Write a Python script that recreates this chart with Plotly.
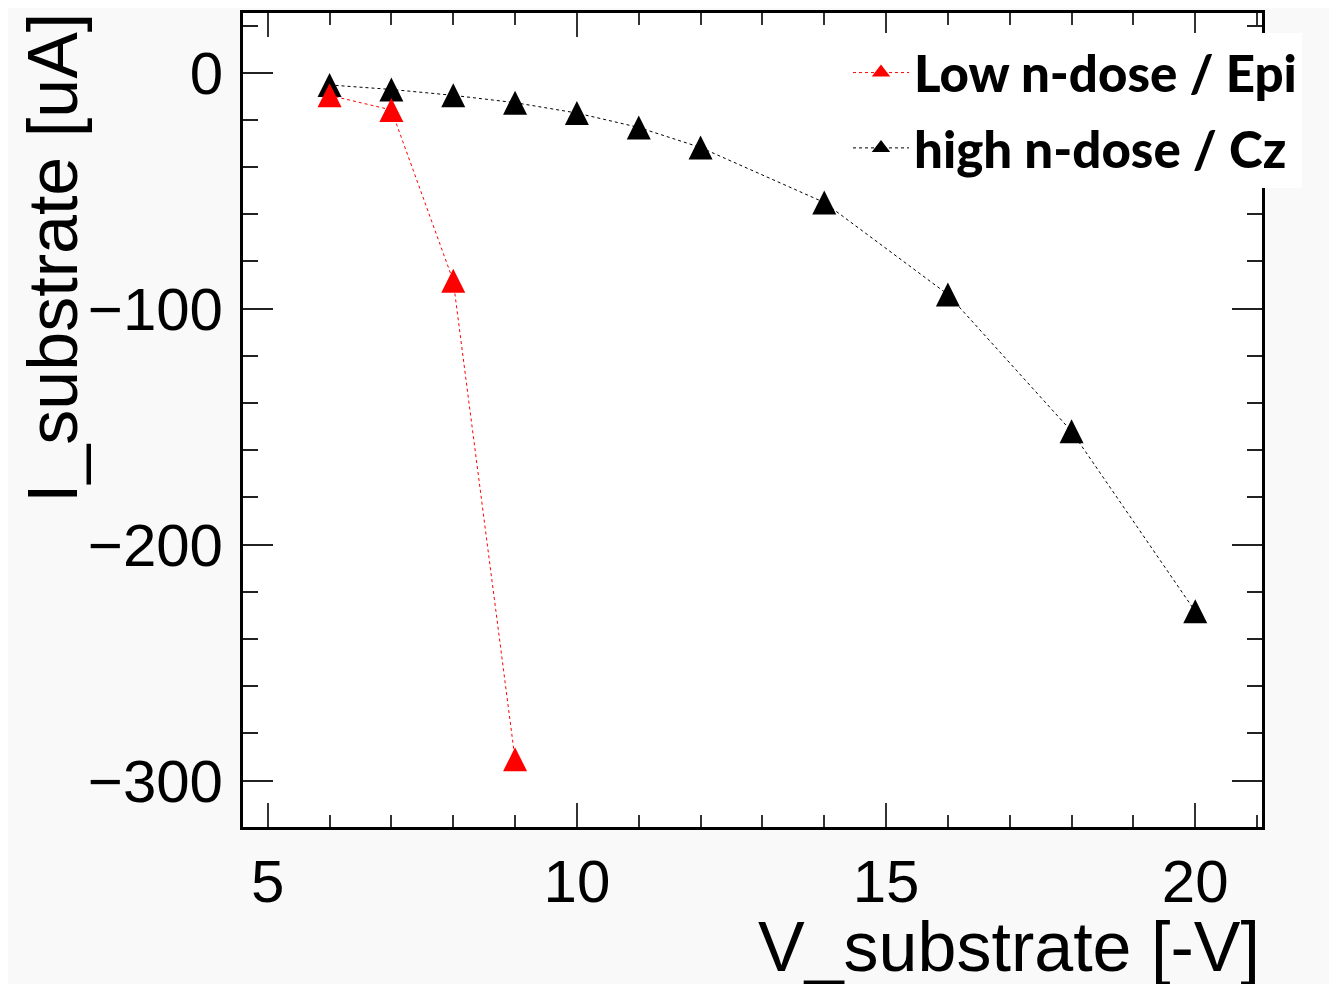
import plotly.graph_objects as go

# Data
v_low = [6, 7, 8, 9]
i_low = [-9.6, -15.8, -88.2, -291.0]

v_high = [6, 7, 8, 9, 10, 11, 12, 14, 16, 18, 20]
i_high = [-5.2, -7.1, -9.6, -12.7, -17.1, -23.2, -31.7, -55.0, -94.0, -152.0, -228.3]

name_low = "Low n-dose / Epi"
name_high = "high n-dose / Cz"

x_title = "V_substrate [-V]"
y_title = "I_substrate [uA]"

x_ticks = [5, 10, 15, 20]
y_ticks = [0, -100, -200, -300]

# page body has an 8px margin, so the figure is sized to fit inside it
W, H = 1329, 976
L, R, T, B = 235, 75, 2, 157
pw = W - L - R
ph = H - T - B

msize = 24
marker_common = dict(symbol="arrow-down", angle=180, standoff=msize / 2, size=msize)

fig = go.Figure()
fig.add_trace(go.Scatter(
    x=v_high, y=i_high, mode="lines+markers", name=name_high,
    line=dict(color="black", width=1, dash="dot", backoff=0),
    marker=dict(color="black", **marker_common),
    showlegend=False,
))
fig.add_trace(go.Scatter(
    x=v_low, y=i_low, mode="lines+markers", name=name_low,
    line=dict(color="red", width=1, dash="dot", backoff=0),
    marker=dict(color="red", **marker_common),
    showlegend=False,
))

# legend entries (no data of their own; plotly caps legend marker size)
for nm, col, grp, rank in [(name_low, "red", "a", 1), (name_high, "black", "b", 2)]:
    fig.add_trace(go.Scatter(
        x=[None], y=[None], mode="lines+markers", name=nm,
        line=dict(color=col, width=1, dash="dot"),
        marker=dict(color=col, symbol="triangle-up", size=16),
        legendgroup=grp, legendrank=rank, showlegend=True,
    ))

axis_font = dict(family="Liberation Sans, Arial, sans-serif", size=60, color="black")

fig.update_xaxes(
    range=[4.6, 21.08], tickvals=x_ticks, ticktext=[str(v) for v in x_ticks],
    ticks="inside", ticklen=24, tickwidth=2, tickcolor="#333",
    minor=dict(dtick=1, ticks="inside", ticklen=12, tickwidth=2, tickcolor="#333", showgrid=False),
    showline=True, linewidth=3, linecolor="black", mirror="allticks",
    showgrid=False, zeroline=False, tickfont=axis_font, ticklabelstandoff=0,
)
fig.update_yaxes(
    range=[-319.7, 25.3], tickvals=y_ticks,
    ticks="inside", ticklen=30, tickwidth=2, tickcolor="#222",
    minor=dict(dtick=20, tick0=0, ticks="inside", ticklen=15, tickwidth=2, tickcolor="#222", showgrid=False),
    showline=True, linewidth=3, linecolor="black", mirror="allticks",
    showgrid=False, zeroline=False, tickfont=axis_font, ticklabelstandoff=5,
)

fig.add_annotation(
    text=x_title, xref="paper", yref="paper", x=1.0, y=(H - B - 939) / ph,
    xanchor="right", yanchor="middle", showarrow=False,
    font=dict(family="Liberation Sans, Arial, sans-serif", size=70, color="black"),
)
fig.add_annotation(
    text=y_title, xref="paper", yref="paper", x=(45 - L) / pw, y=1 + 2 / ph,
    xanchor="center", yanchor="top", showarrow=False, textangle=-90,
    font=dict(family="Liberation Sans, Arial, sans-serif", size=70, color="black"),
)

fig.update_layout(
    width=W, height=H,
    margin=dict(l=L, r=R, t=T, b=B),
    paper_bgcolor="#f9f9f9", plot_bgcolor="white",
    showlegend=True,
    legend=dict(
        x=(840 - L) / pw, y=1 - (22 - T) / ph, xanchor="left", yanchor="top",
        bgcolor="white", borderwidth=0, itemwidth=56, tracegroupgap=6,
        font=dict(family="Lato, sans-serif", size=51, color="black", weight=900),
    ),
)

fig.write_html("out.html")
